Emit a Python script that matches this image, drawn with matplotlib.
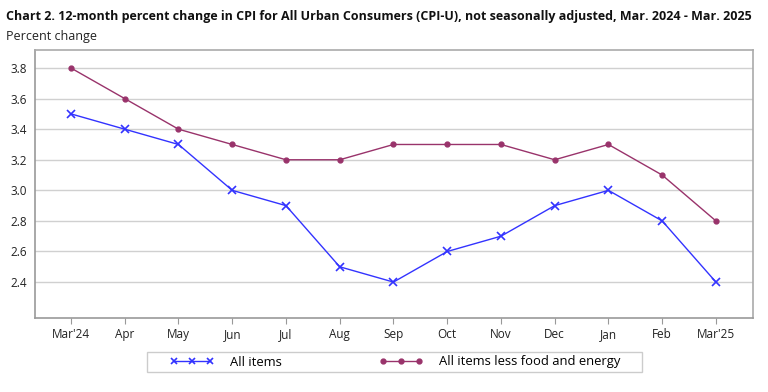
import matplotlib
matplotlib.use("Agg")
import matplotlib.pyplot as plt
from matplotlib.lines import Line2D
from matplotlib.patches import Rectangle

months = ["Mar'24", "Apr", "May", "Jun", "Jul", "Aug", "Sep", "Oct", "Nov", "Dec", "Jan", "Feb", "Mar'25"]
all_items = [3.5, 3.4, 3.3, 3.0, 2.9, 2.5, 2.4, 2.6, 2.7, 2.9, 3.0, 2.8, 2.4]
core = [3.8, 3.6, 3.4, 3.3, 3.2, 3.2, 3.3, 3.3, 3.3, 3.2, 3.3, 3.1, 2.8]
yticks = [2.4, 2.6, 2.8, 3.0, 3.2, 3.4, 3.6, 3.8]
series_names = ["All items", "All items less food and energy"]

plt.rcParams['font.family'] = ['Open Sans', 'DejaVu Sans']
blue = '#3333ff'
maroon = '#99336b'

W, H = 768, 392
fig = plt.figure(figsize=(W/100, H/100), dpi=100)
ax = fig.add_axes([35/W, 1-318/H, (753-35)/W, (318-50)/H])

x = list(range(len(months)))
ax.plot(x, all_items, color=blue, lw=1.0, marker='x', ms=5.5, mew=1.2, zorder=3)
ax.plot(x, core, color=maroon, lw=1.0, marker='o', ms=3.5, zorder=3)

ax.set_xlim(-0.67, 12.69)
ax.set_ylim(2.165, 3.918)
ax.set_xticks(x)
ax.set_xticklabels(months, fontsize=8.5, color='#222222')
ax.set_yticks(yticks)
ax.set_yticklabels([f"{v:.1f}" for v in yticks], fontsize=8.5, color='#222222')
ax.tick_params(axis='y', length=0, pad=6)
ax.tick_params(axis='x', length=4, color='#999999', pad=3)
ax.grid(axis='y', color='#d0d0d0', lw=1.0)
ax.set_axisbelow(True)
for s in ['left', 'bottom']:
    ax.spines[s].set_color('#999999')
    ax.spines[s].set_linewidth(1.2)
for s in ['top', 'right']:
    ax.spines[s].set_color('#aaaaaa')
    ax.spines[s].set_linewidth(1.2)

fig.text(6/W, 1-20/H, "Chart 2. 12-month percent change in CPI for All Urban Consumers (CPI-U), not seasonally adjusted, Mar. 2024 - Mar. 2025",
         fontsize=9, fontweight='bold', va='baseline', ha='left', color='#111111')
fig.text(6/W, 1-40/H, "Percent change", fontsize=9, va='baseline', ha='left', color='#222222')

# legend frame
fig.patches.append(Rectangle((147/W, 1-372/H), (642-147)/W, 20/H, transform=fig.transFigure,
                             facecolor='white', edgecolor='#cccccc', lw=1.0, zorder=1))
h1 = Line2D([], [], color=blue, lw=1.0, marker='x', ms=5, mew=1.2)
h2 = Line2D([], [], color=maroon, lw=1.0, marker='o', ms=3.5)
fs = 9.4
hl = 44 / (fs * 100 / 72)
for h, name, x0 in [(h1, series_names[0], 170), (h2, series_names[1], 379)]:
    lg = fig.legend([h], [name], loc='center left', bbox_to_anchor=(x0/W, 1-362/H),
                    numpoints=3, handlelength=hl, fontsize=fs, frameon=False,
                    handletextpad=16 / (fs * 100 / 72), borderpad=0, borderaxespad=0)
    lg.set_zorder(2)

fig.savefig("out.png", dpi=100)
